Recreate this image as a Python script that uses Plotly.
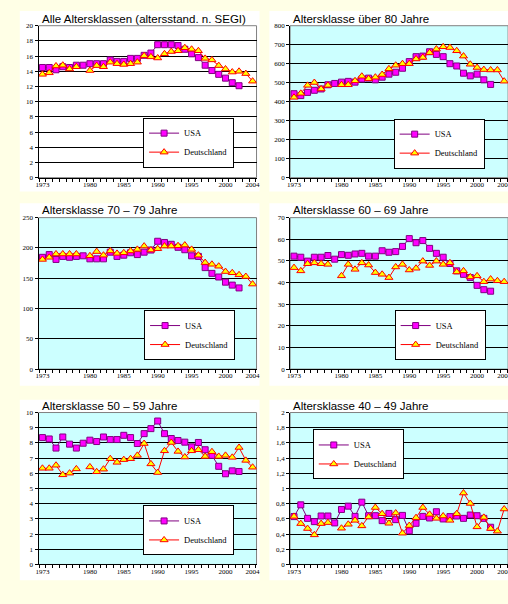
import plotly.graph_objects as go

# ---------------- data ----------------
years_usa = list(range(1973, 2003))
years_de = list(range(1973, 2005))

usa_all = [14.5, 14.5, 14.2, 14.6, 14.5, 14.8, 14.8, 15.0, 15.0, 15.0, 15.5, 15.3, 15.3, 15.7, 15.7,
           16.1, 16.4, 17.5, 17.5, 17.5, 17.4, 16.9, 16.3, 15.8, 14.8, 14.1, 13.6, 13.1, 12.5, 12.1]
de_all = [13.6, 13.8, 14.7, 14.8, 14.3, 14.6, None, 14.1, 14.75, 14.6, 15.2, 15.0, 14.9, 15.0, 15.2,
          16.05, 15.9, 15.75, 16.3, 16.6, 16.7, 17.1, 16.9, 16.7, 15.7, 15.5, 14.75, 14.3, 13.9, 14.0, 13.7, 12.7]

usa_80 = [442, 432, 449, 460, 467, 489, 496, 503, 507, 503, 519, 524, 515, 529, 545,
          555, 576, 611, 637, 640, 663, 649, 637, 600, 588, 550, 536, 545, 515, 491]
de_80 = [423, 444, 486, 501, 467, 486, None, 489, 489, 510, 534, 521, 529, 543, 573,
         592, 600, 600, 625, 633, 658, 677, 689, 685, 668, 640, 597, 580, 569, 567, 567, 508]

usa_70 = [184.5, 189, 181, 186, 184.5, 186, 187, 182, 182, 182, 193, 186, 188, 192, 189,
          193, 196.5, 211, 209, 206, 201, 197, 187, 186, 167.5, 158, 152, 143.5, 138.6, 134]
de_70 = [181, 184.5, 190, 190, 190, 190, None, 187, 194, 188, 195, 191, 192, 195, 197.6,
         203, 196.5, 198.7, 203, 203, 203.6, 204.7, 197.6, 188, 175.8, 173, 169.8, 161, 159, 155.6, 152.8, 140.3]

usa_60 = [52.2, 51.7, 49.9, 51.7, 51.7, 52.5, 50.8, 52.9, 52.6, 53.2, 53.5, 52.2, 52.2, 54.7, 54.0,
          54.3, 56.7, 60.3, 58.4, 59.4, 55.8, 53.5, 51.7, 48.8, 45.4, 43.8, 42.3, 38.7, 36.7, 36.0]
de_60 = [46.9, 45.4, 48.7, 49.1, 48.7, 48.4, None, 43.1, 48.4, 46.1, 49.1, 48.1, 44.6, 43.8, 42.3,
         47.2, 48.4, 45.8, 46.6, 49.9, 47.9, 49.9, 48.4, 49.1, 44.9, 45.4, 42.6, 43.1, 40.4, 41.6, 40.8, 40.4]

usa_50 = [8.35, 8.26, 7.66, 8.39, 7.92, 7.66, 7.98, 8.18, 8.09, 8.39, 8.22, 8.22, 8.50, 8.35, 7.96,
          8.61, 8.94, 9.44, 8.61, 8.29, 8.16, 8.05, 7.74, 8.03, 7.55, 7.18, 6.46, 5.97, 6.16, 6.12]
de_50 = [6.33, 6.33, 6.53, 5.90, 6.01, 6.29, None, 6.42, 6.10, 6.27, 6.96, 6.72, 6.90, 6.96, 7.18,
         7.96, 6.62, 6.05, 7.48, 8.03, 7.44, 7.07, 7.48, 7.55, 7.11, 7.42, 7.11, 7.18, 7.05, 7.70, 6.85, 6.40]

usa_40 = [0.63, 0.785, 0.607, 0.564, 0.638, 0.638, 0.547, 0.724, 0.768, 0.633, 0.82, 0.642, 0.642, 0.577, 0.672,
          0.59, 0.646, 0.443, 0.542, 0.633, 0.612, 0.694, 0.599, 0.63, 0.638, 0.607, 0.651, 0.642, 0.607, 0.49]
de_40 = [0.633, 0.538, 0.473, 0.39, 0.538, 0.551, None, 0.477, 0.529, 0.581, 0.508, 0.625, 0.75, 0.668, 0.542,
         0.677, 0.412, 0.512, 0.616, 0.75, 0.66, 0.607, 0.638, 0.581, 0.668, 0.94, 0.803, 0.495, 0.62, 0.473, 0.438, 0.73]

titles = ["Alle Altersklassen (altersstand. n. SEGI)", "Altersklasse über 80 Jahre",
          "Altersklasse 70 – 79 Jahre", "Altersklasse 60 – 69 Jahre",
          "Altersklasse 50 – 59 Jahre", "Altersklasse 40 – 49 Jahre"]

x_tickvals = [1973, 1980, 1985, 1990, 1995, 2000, 2004]
x_ticktext = ["1973", "1980", "1985", "1990", "1995", "2000", "2004"]

yt_all = [0, 2, 4, 6, 8, 10, 12, 14, 16, 18, 20]
yl_all = [str(v) for v in yt_all]
yt_80 = [0, 100, 200, 300, 400, 500, 600, 700, 800]
yl_80 = [str(v) for v in yt_80]
yt_70 = [0, 50, 100, 150, 200, 250]
yl_70 = [str(v) for v in yt_70]
yt_60 = [0, 10, 20, 30, 40, 50, 60, 70]
yl_60 = [str(v) for v in yt_60]
yt_50 = [0, 1, 2, 3, 4, 5, 6, 7, 8, 9, 10]
yl_50 = [str(v) for v in yt_50]
yt_40 = [0, 0.2, 0.4, 0.6, 0.8, 1.0, 1.2, 1.4, 1.6, 1.8, 2.0]
yl_40 = ["0", "0,2", "0,4", "0,6", "0,8", "1", "1,2", "1,4", "1,6", "1,8", "2"]

series_usa = [usa_all, usa_80, usa_70, usa_60, usa_50, usa_40]
series_de = [de_all, de_80, de_70, de_60, de_50, de_40]
y_ticks = [(yt_all, yl_all), (yt_80, yl_80), (yt_70, yl_70), (yt_60, yl_60), (yt_50, yl_50), (yt_40, yl_40)]

# ---------------- layout geometry (pixels) ----------------
W, H = 520, 604
BG = "#FFFFE6"
CYAN = "#CCFFFF"


def px(p):
    return p / W


def py(p):
    return 1 - p / H


col_x = [(36, 257), (291, 512)]
row_y = [(22, 176), (216.5, 370), (414, 568)]
chart_x = [(17, 260), (270, 520)]
chart_y = [(7, 190), (202, 387), (401, 584)]
title_y = [15, 209, 407]
legend_pos = [(142, 140.5), (396, 141.5), (143, 335.5), (397, 335.5), (142, 533.5), (314, 456.5)]
plot_bgs = ["white", CYAN, CYAN, CYAN, CYAN, CYAN]

fig = go.Figure()
shapes = []
annotations = []
layout = {}

# chart areas (white)
for r in range(3):
    for c in range(2):
        shapes.append(dict(type="rect", xref="paper", yref="paper",
                           x0=px(chart_x[c][0]), x1=px(chart_x[c][1]),
                           y0=py(chart_y[r][1]), y1=py(chart_y[r][0]),
                           fillcolor="white", line=dict(width=0), layer="below"))

for k in range(6):
    r, c = divmod(k, 2)
    idx = "" if k == 0 else str(k + 1)
    xa, ya = "x" + idx, "y" + idx
    leg = "legend" + idx
    x0, x1 = col_x[c]
    y0, y1 = row_y[r]

    # plot area background + gray border
    shapes.append(dict(type="rect", xref="paper", yref="paper",
                       x0=px(x0), x1=px(x1), y0=py(y1), y1=py(y0),
                       fillcolor=plot_bgs[k], line=dict(color="#808080", width=1), layer="below"))

    fig.add_trace(go.Scatter(
        x=years_usa, y=series_usa[k], xaxis=xa, yaxis=ya, name="USA", legend=leg,
        mode="lines+markers", line=dict(color="#800080", width=1),
        marker=dict(symbol="square", size=6, color="#FF00FF", line=dict(color="#800080", width=1)),
        connectgaps=False, hoverinfo="skip"))
    fig.add_trace(go.Scatter(
        x=years_de, y=series_de[k], xaxis=xa, yaxis=ya, name="Deutschland", legend=leg,
        mode="lines+markers", line=dict(color="#FF0000", width=1),
        marker=dict(symbol="triangle-up", size=7, color="#FFFF00", line=dict(color="#FF0000", width=1)),
        connectgaps=False, hoverinfo="skip"))

    tv, tl = y_ticks[k]
    layout["xaxis" + idx] = dict(
        domain=[px(x0), px(x1)], anchor=ya, range=[1972.42, 2004.58],
        tickmode="array", tickvals=x_tickvals, ticktext=x_ticktext,
        ticks="", ticklabelstandoff=0,
        tickfont=dict(family="Liberation Serif", size=7, color="black"),
        showline=True, linecolor="black", linewidth=1, showgrid=False, zeroline=False,
        minor=dict(ticks="outside", ticklen=3, tickcolor="black", tick0=1972.5, dtick=1, showgrid=False),
        fixedrange=True)
    layout["yaxis" + idx] = dict(
        domain=[py(y1), py(y0)], anchor=xa, range=[tv[0], tv[-1]],
        tickmode="array", tickvals=tv, ticktext=tl,
        ticks="outside", ticklen=3, tickcolor="black",
        tickfont=dict(family="Liberation Serif", size=7, color="black"),
        showline=True, linecolor="black", linewidth=1,
        showgrid=True, gridcolor="black", gridwidth=1, zeroline=False,
        fixedrange=True)

    lx, ly = legend_pos[k]
    layout[leg] = dict(x=px(lx), y=py(ly), xanchor="left", yanchor="middle",
                       bgcolor="white", bordercolor="black", borderwidth=1,
                       font=dict(family="Liberation Serif", size=8.5, color="black"),
                       itemwidth=30, tracegroupgap=0, traceorder="normal")

    annotations.append(dict(text=titles[k], xref="paper", yref="paper",
                            x=px(x0 + 1), y=py(title_y[r]), xanchor="left", yanchor="middle",
                            showarrow=False,
                            font=dict(family="Liberation Sans", size=11.5, color="black")))

fig.update_layout(
    width=W, height=H, margin=dict(l=0, r=0, t=0, b=0, pad=0),
    paper_bgcolor=BG, plot_bgcolor="rgba(0,0,0,0)",
    showlegend=True, shapes=shapes, annotations=annotations,
    separators=",.", **layout)

js = ("document.body.style.margin='0';document.body.style.padding='0';"
      "document.body.style.overflow='hidden';document.documentElement.style.overflow='hidden';")
fig.write_html("out.html", post_script=js, config={"displayModeBar": False})
